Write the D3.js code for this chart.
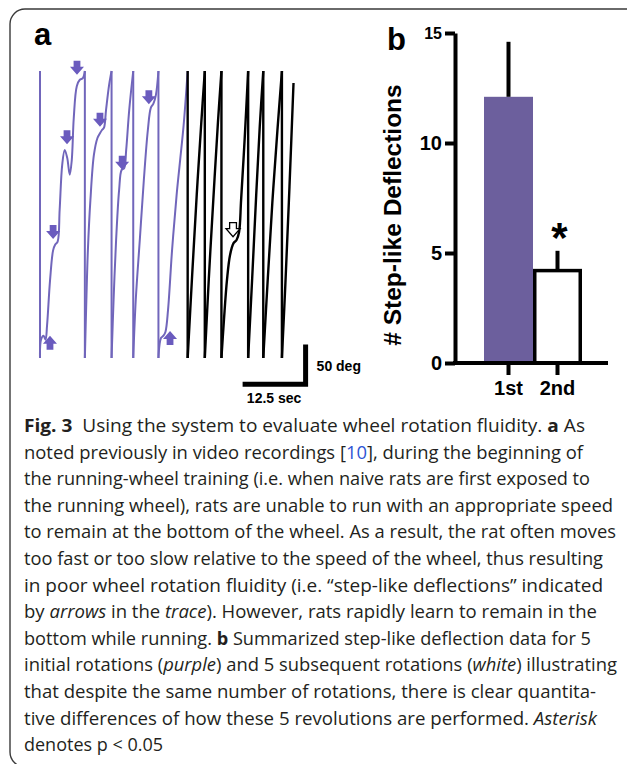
<!DOCTYPE html>
<html>
<head>
<meta charset="utf-8">
<script src="https://cdn.jsdelivr.net/npm/d3@7"></script>
<style>
body{margin:0;background:#fff;}
svg text{font-family:"Liberation Sans",Arial,sans-serif;}
.cap{font-family:"Open Sans",sans-serif;fill:#231f20;white-space:pre;}
</style>
</head>
<body>
<div id="main"></div>
<script>

const w = 627;
const h = 764;

// panel a: wheel angle (deg) against time (s); a drop back to 0 is one full turn
const purpleTime  = [0, 0, 0.2, 0.7, 1.1, 1.4, 2.0, 2.6, 3.0, 3.5, 3.9, 4.4, 4.9, 5.4, 5.9, 6.3, 6.7, 7.3, 7.9, 8.5, 8.9,
    8.9, 9.2, 9.5, 10.0, 10.7, 11.4, 11.9, 12.3, 12.7, 13.1, 13.7, 14.2,
    14.2, 14.6, 15.1, 15.7, 16.2, 16.7, 17.1, 17.7, 18.5,
    18.5, 19.0, 19.8, 20.6, 21.4, 22.0, 22.5, 23.0, 23.5,
    23.5, 23.7, 24.0, 24.5, 24.9, 25.4, 26.2, 27.1, 27.8, 28.5, 29.3];
const purpleAngle = [360, 0, 23, 28, 23, 41, 98, 135, 142, 146, 186, 242, 261, 251, 230, 248, 301, 341, 349, 351, 360,
    0, 73, 135, 198, 255, 276, 282, 286, 289, 311, 342, 360,
    0, 73, 148, 211, 236, 238, 261, 311, 360,
    0, 73, 148, 223, 286, 314, 319, 330, 360,
    0, 16, 25, 28, 33, 60, 135, 204, 248, 292, 360];

const blackTime  = [29.3, 29.3, 30.2, 31.1, 32.0, 32.7,
    32.7, 33.5, 34.4, 35.3, 36.0,
    36.0, 36.5, 37.1, 37.7, 38.4, 39.0, 39.5, 39.9, 40.6, 41.3,
    41.3, 42.1, 42.9, 43.6, 44.3,
    44.3, 45.2, 46.1, 47.1, 48.0,
    48.0, 48.7, 49.5, 50.3];
const blackAngle = [360, 0, 105, 205, 295, 360,
    0, 100, 200, 295, 360,
    0, 48, 98, 129, 144, 148, 158, 198, 274, 360,
    0, 100, 205, 290, 360,
    0, 100, 195, 285, 360,
    0, 95, 215, 345];

// step-like deflections marked with arrows
const arrowTime  = [1.98, 2.6, 5.36, 7.34, 11.9, 16.3, 21.6, 25.8];
const arrowAngle = [19, 158, 277, 364, 299, 245, 327, 25];
const arrowDir   = ["up", "down", "down", "down", "down", "down", "down", "up"];
const openArrowTime = [38.3];
const openArrowAngle = [161];

// scale bar
const barSec = 12.5;
const barDeg = 50;
const barCornerTime = 52.7;
const barCornerAngle = -33;

// panel b
const groups = ["1st", "2nd"];
const means = [12.1, 4.2];
const errs = [2.5, 0.9];
const yTicks = [0, 5, 10, 15];

const purpleLine = "#7166bb";
const purpleFill = "#6a5bbe";
const barPurple = "#6c5f9d";

const svg = d3.select("#main").append("svg").attr("width", w).attr("height", h);

// frame
svg.append("rect")
    .attr("x", 10).attr("y", 9)
    .attr("width", 640).attr("height", 758)
    .attr("rx", 15).attr("ry", 15)
    .style("fill", "none").style("stroke", "#3a3a3a").style("stroke-width", 1.4);

// ---------- panel a ----------
const xs = d3.scaleLinear().domain([0, 50]).range([40, 292]);
const ys = d3.scaleLinear().domain([0, 360]).range([358, 71]);

function splitRuns(times, angles) {
    const runs = [];
    let cur = [];
    times.forEach((t, i) => {
        if (i > 0 && angles[i] < angles[i - 1] - 180) {
            runs.push(cur);
            cur = [];
        }
        cur.push([t, angles[i]]);
    });
    runs.push(cur);
    return runs;
}

const curveLine = d3.line()
    .x(d => xs(d[0]))
    .y(d => ys(d[1]))
    .curve(d3.curveCatmullRom.alpha(0.5));
const straight = d3.line().x(d => xs(d[0])).y(d => ys(d[1]));

function drawTrace(times, angles, color, width) {
    const runs = splitRuns(times, angles);
    const g = svg.append("g");
    runs.forEach((run, i) => {
        if (run.length > 1) {
            g.append("path").attr("d", curveLine(run))
                .style("fill", "none").style("stroke", color).style("stroke-width", width)
                .style("stroke-linejoin", "round");
        }
        if (i < runs.length - 1) {
            const a = run[run.length - 1];
            const b = runs[i + 1][0];
            g.append("path").attr("d", straight([a, b]))
                .style("fill", "none").style("stroke", color).style("stroke-width", width);
        }
    });
}

drawTrace(purpleTime, purpleAngle, purpleLine, 2);
drawTrace(blackTime, blackAngle, "#000", 2.4);

// block arrow pointing down, tip at bottom
const arrowPath = "M-3.4,-7 L3.4,-7 L3.4,-1 L7,-1 L0,7 L-7,-1 L-3.4,-1 Z";

svg.selectAll(".arrow")
    .data(arrowTime)
    .enter()
    .append("path")
    .attr("class", "arrow")
    .attr("d", arrowPath)
    .attr("transform", (d, i) => "translate(" + xs(d) + "," + ys(arrowAngle[i]) + ")" +
        (arrowDir[i] === "up" ? " rotate(180)" : ""))
    .style("fill", purpleFill);

svg.selectAll(".openarrow")
    .data(openArrowTime)
    .enter()
    .append("path")
    .attr("class", "openarrow")
    .attr("d", arrowPath)
    .attr("transform", (d, i) => "translate(" + xs(d) + "," + ys(openArrowAngle[i]) + ")")
    .style("fill", "#fff").style("stroke", "#000").style("stroke-width", 1.3);

// scale bar
const cx = xs(barCornerTime), cy = ys(barCornerAngle);
svg.append("path")
    .attr("d", "M" + xs(barCornerTime - barSec) + "," + cy + " L" + cx + "," + cy + " L" + cx + "," + ys(barCornerAngle + barDeg))
    .style("fill", "none").style("stroke", "#000").style("stroke-width", 5).style("stroke-linejoin", "miter");
svg.append("text")
    .attr("x", cx + 11).attr("y", (cy + ys(barCornerAngle + barDeg)) / 2 + 7)
    .style("font-weight", "bold").style("font-size", "14px")
    .text(barDeg + " deg");
svg.append("text")
    .attr("x", (cx + xs(barCornerTime - barSec)) / 2).attr("y", cy + 19)
    .style("text-anchor", "middle").style("font-weight", "bold").style("font-size", "14px")
    .text(barSec + " sec");

// panel letters
svg.append("text").attr("x", 34).attr("y", 45)
    .style("font-weight", "bold").style("font-size", "31px").text("a");
svg.append("text").attr("x", 387).attr("y", 50)
    .style("font-weight", "bold").style("font-size", "31px").text("b");

// ---------- panel b ----------
const yb = d3.scaleLinear().domain([0, 15]).range([363, 33]);
const xb = d3.scaleBand().domain(groups).range([484, 582]).padding(0);
const axisX = 455;

svg.selectAll(".bar")
    .data(means)
    .enter()
    .append("rect")
    .attr("class", "bar")
    .attr("x", (d, i) => i === 0 ? xb(groups[i]) : xb(groups[i]) + 1.75)
    .attr("y", d => yb(d))
    .attr("width", (d, i) => i === 0 ? xb.bandwidth() : xb.bandwidth() - 3.5)
    .attr("height", d => yb(0) - yb(d))
    .style("fill", (d, i) => i === 0 ? barPurple : "#fff")
    .style("stroke", (d, i) => i === 0 ? "none" : "#000")
    .style("stroke-width", 3.5);

svg.selectAll(".err")
    .data(means)
    .enter()
    .append("line")
    .attr("class", "err")
    .attr("x1", (d, i) => xb(groups[i]) + xb.bandwidth() / 2)
    .attr("x2", (d, i) => xb(groups[i]) + xb.bandwidth() / 2)
    .attr("y1", d => yb(d))
    .attr("y2", (d, i) => yb(d + errs[i]))
    .style("stroke", "#000").style("stroke-width", 4);

const yAxis = d3.axisLeft(yb).tickValues(yTicks).tickSize(10).tickSizeOuter(0).tickPadding(3);
const gy = svg.append("g").attr("transform", "translate(" + axisX + ",0)").call(yAxis);
gy.select(".domain").style("stroke-width", 4);
gy.selectAll(".tick line").style("stroke-width", 4);
gy.selectAll(".tick text")
    .style("font-family", "'Liberation Sans', Arial, sans-serif")
    .style("font-weight", "bold")
    .style("font-size", d => d === 15 ? "16px" : "20px")
    .style("fill", "#000");

const xAxis = d3.axisBottom(xb).tickSize(12).tickSizeOuter(0).tickPadding(6);
const gx = svg.append("g").attr("transform", "translate(0," + yb(0) + ")").call(xAxis);
gx.select(".domain").remove();
gx.selectAll(".tick line").style("stroke-width", 4);
gx.selectAll(".tick text")
    .style("font-family", "'Liberation Sans', Arial, sans-serif")
    .style("font-weight", "bold")
    .style("font-size", "20px")
    .style("fill", "#000");
svg.append("line")
    .attr("x1", axisX - 2).attr("x2", 608)
    .attr("y1", yb(0)).attr("y2", yb(0))
    .style("stroke", "#000").style("stroke-width", 4);

svg.append("text")
    .attr("x", xb("2nd") + xb.bandwidth() / 2 + 2)
    .attr("y", yb(means[1] + errs[1]) + 1)
    .style("text-anchor", "middle").style("font-weight", "bold").style("font-size", "42px")
    .text("*");

svg.append("text")
    .attr("transform", "translate(401,215) rotate(-90)")
    .style("text-anchor", "middle").style("font-weight", "bold").style("font-size", "24.5px")
    .text("# Step-like Deflections");

// ---------- caption ----------
const captionLines = [
    [{s: "Fig. 3", b: 1}, {s: "  Using the system to evaluate wheel rotation fluidity. "}, {s: "a", b: 1}, {s: " As"}],
    [{s: "noted previously in video recordings ["}, {s: "10", c: "#2f55d4"}, {s: "], during the beginning of"}],
    [{s: "the running-wheel training (i.e. when naive rats are first exposed to"}],
    [{s: "the running wheel), rats are unable to run with an appropriate speed"}],
    [{s: "to remain at the bottom of the wheel. As a result, the rat often moves"}],
    [{s: "too fast or too slow relative to the speed of the wheel, thus resulting"}],
    [{s: "in poor wheel rotation fluidity (i.e. \u201cstep-like deflections\u201d indicated"}],
    [{s: "by "}, {s: "arrows", i: 1}, {s: " in the "}, {s: "trace", i: 1}, {s: "). However, rats rapidly learn to remain in the"}],
    [{s: "bottom while running. "}, {s: "b", b: 1}, {s: " Summarized step-like deflection data for 5"}],
    [{s: "initial rotations ("}, {s: "purple", i: 1}, {s: ") and 5 subsequent rotations ("}, {s: "white", i: 1}, {s: ") illustrating"}],
    [{s: "that despite the same number of rotations, there is clear quantita-"}],
    [{s: "tive differences of how these 5 revolutions are performed. "}, {s: "Asterisk", i: 1}],
    [{s: "denotes p < 0.05"}]
];
const capEnds = [585, 583, 590, 613, 616, 603, 603, 597, 591, 617, 596, 597, 163];
const capX = 24;
const capY0 = 432;
const capDy = 26.6;

captionLines.forEach((runs, i) => {
    const t = svg.append("text")
        .attr("class", "cap")
        .attr("x", capX)
        .attr("y", capY0 + i * capDy)
        .style("font-size", "18.5px");
    runs.forEach(r => {
        const sp = t.append("tspan").text(r.s);
        if (r.b) sp.style("font-weight", "bold");
        if (r.i) sp.style("font-style", "italic");
        if (r.c) sp.style("fill", r.c);
    });
    t.attr("textLength", capEnds[i] - capX).attr("lengthAdjust", "spacingAndGlyphs");
});

</script>
</body>
</html>
